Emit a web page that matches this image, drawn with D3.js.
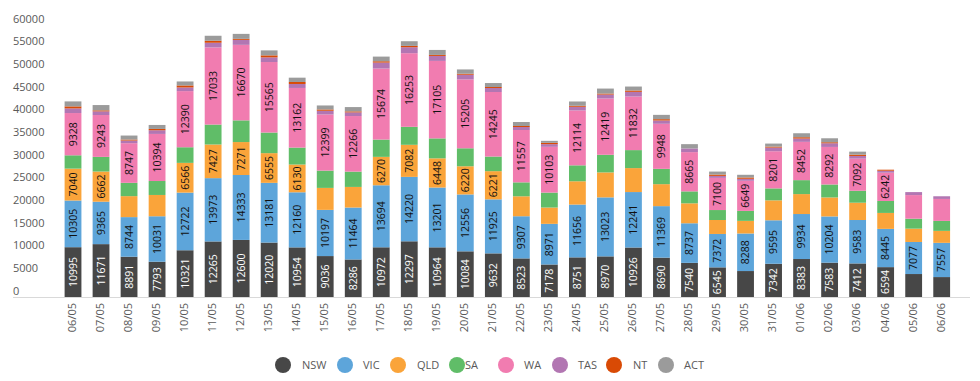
<!DOCTYPE html>
<html>
<head>
<meta charset="utf-8">
<script src="https://cdn.jsdelivr.net/npm/d3@7"></script>
<style>
  html, body { margin: 0; padding: 0; background: #fff; }
  svg { display: block; font-family: "Open Sans", "Noto Sans", sans-serif; }
</style>
</head>
<body>
<svg id="chart" width="980" height="381"></svg>
<script>
const dates = ["06/05","07/05","08/05","09/05","10/05","11/05","12/05","13/05","14/05","15/05","16/05","17/05","18/05","19/05","20/05","21/05","22/05","23/05","24/05","25/05","26/05","27/05","28/05","29/05","30/05","31/05","01/06","02/06","03/06","04/06","05/06","06/06"];
const NSW = [10995,11671,8891,7793,10321,12265,12600,12020,10954,9036,8286,10972,12297,10964,10084,9632,8523,7178,8751,8970,10926,8690,7540,6545,5730,7342,8383,7583,7412,6594,5070,4400];
const VIC = [10305,9365,8744,10031,12722,13973,14333,13181,12160,10197,11464,13694,14220,13201,12556,11925,9307,8971,11656,13023,12241,11369,8737,7372,8288,9595,9934,10204,9583,8445,7077,7557];
const QLD = [7040,6662,4630,4700,6566,7427,7271,6555,6130,4850,4550,6270,7082,6448,6220,6221,4400,3600,5140,5510,5290,4850,4400,3080,2790,4400,4400,4190,3820,3520,2940,2640];
const SA  = [2940,3230,2940,3080,3450,4400,4790,4550,3740,3820,3380,3820,3970,4400,3970,3230,3080,3300,3520,3890,3970,3380,2640,2200,2200,2640,3080,2860,2640,2640,2200,2200];
const WA  = [9328,9243,8747,10394,12390,17033,16670,15565,13162,12399,12266,15674,16253,17105,15205,14245,11557,10103,12114,12419,11832,9948,8665,7100,6649,8201,8452,8292,7092,6242,5210,4850];
const TAS = [1030,810,590,810,810,1030,1100,1030,880,810,810,1320,1320,1100,1030,880,660,590,810,880,1030,730,810,440,440,810,730,810,590,440,660,590];
const NT  = [440,220,220,290,440,440,220,440,440,290,220,290,290,220,220,220,220,290,220,220,290,290,0,290,290,220,290,220,290,220,0,0];
const ACT = [1100,1170,880,880,880,1100,1100,1100,950,880,950,1030,1030,1100,950,880,880,440,950,1100,880,950,950,660,590,660,880,880,660,0,0,0];
const seriesNames = ["NSW","VIC","QLD","SA","WA","TAS","NT","ACT"];
const seriesValues = [NSW, VIC, QLD, SA, WA, TAS, NT, ACT];
const yTicks = [0,5000,10000,15000,20000,25000,30000,35000,40000,45000,50000,55000,60000];
const labelMin = 6000;

const colors = ["#474747","#5DA5DA","#FAA43A","#60BD68","#F17CB0","#B276B2","#D94A05","#9B9B9B"];
const labelColors = ["#ffffff","#111","#111","#111","#111","#111","#111","#111"];

const svg = d3.select("#chart");
const rows = dates.map((d, i) => {
  const r = { date: d };
  seriesNames.forEach((s, j) => r[s] = seriesValues[j][i]);
  return r;
});
const stacked = d3.stack().keys(seriesNames)(rows);

const x = d3.scaleBand().domain(dates).range([59, 955.7]).paddingInner(0.4).paddingOuter(0.2);
const y = d3.scaleLinear().domain([0, 60000]).range([297, 25.2]);

// y axis labels (left aligned)
svg.append("g").selectAll("text").data(yTicks).join("text")
  .attr("x", 13).attr("y", d => y(d) - 2.5)
  .attr("font-size", 11).attr("fill", "#595959")
  .text(d => d);

// bars
const layers = svg.append("g").selectAll("g").data(stacked).join("g")
  .attr("fill", (d, i) => colors[i]);
layers.selectAll("rect").data(d => d).join("rect")
  .attr("x", d => x(d.data.date))
  .attr("width", x.bandwidth())
  .attr("y", d => y(d[1]))
  .attr("height", d => Math.max(0, y(d[0]) - y(d[1])));

// value labels
stacked.forEach((layer, i) => {
  svg.append("g").selectAll("text").data(layer.filter(d => d[1] - d[0] >= labelMin)).join("text")
    .attr("transform", d => `translate(${x(d.data.date) + x.bandwidth() / 2},${(y(d[0]) + y(d[1])) / 2}) rotate(-90)`)
    .attr("text-anchor", "middle").attr("dy", "0.35em")
    .attr("font-size", 10.5).attr("fill", labelColors[i])
    .text(d => d[1] - d[0]);
});

// x axis line
svg.append("line").attr("x1", 13).attr("x2", 970).attr("y1", 297.5).attr("y2", 297.5)
  .attr("stroke", "#d9d9d9").attr("stroke-width", 1);

// x labels
svg.append("g").selectAll("text").data(dates).join("text")
  .attr("transform", d => `translate(${x(d) + x.bandwidth() / 2 - 1},303) rotate(-90)`)
  .attr("text-anchor", "end").attr("dy", "0.35em")
  .attr("font-size", 11).attr("fill", "#595959")
  .text(d => d);

// legend
const legendCx = [283, 345, 398, 457, 506, 560, 614, 666];
const legendTx = [302, 363, 417, 465, 524, 578, 633, 684];
const lg = svg.append("g");
seriesNames.forEach((s, i) => {
  lg.append("circle").attr("cx", legendCx[i]).attr("cy", 365).attr("r", 8).attr("fill", colors[i]);
  lg.append("text").attr("x", legendTx[i]).attr("y", 365).attr("dy", "0.35em")
    .attr("font-size", 11).attr("fill", "#595959").text(s);
});
</script>
</body>
</html>
